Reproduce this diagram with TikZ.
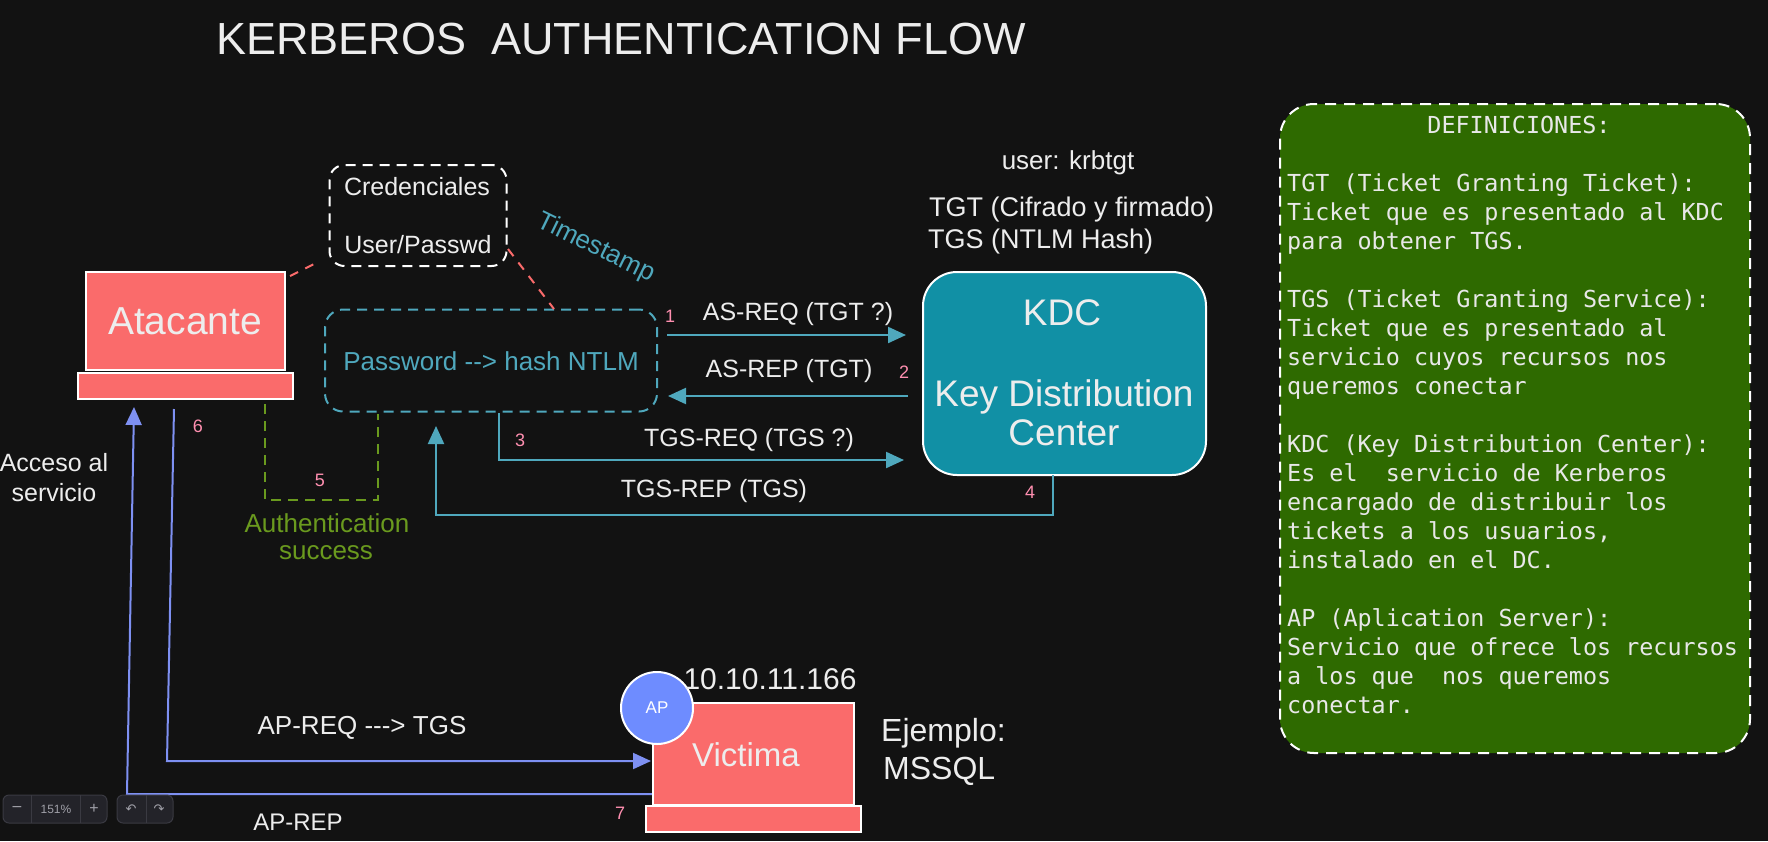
\documentclass[tikz,border=0pt]{standalone}
\usepackage{fontspec}
\setmainfont{Liberation Sans}
\newfontfamily\monofont{DejaVu Sans Mono}
\newfontfamily\symfont{DejaVu Sans}
\usetikzlibrary{arrows.meta,shapes.geometric}
\definecolor{bg}{HTML}{121212}
\definecolor{salmon}{HTML}{FA6B6B}
\definecolor{tealline}{HTML}{4FA8BD}
\definecolor{kdcfill}{HTML}{1190A5}
\definecolor{defgreen}{HTML}{2E6A00}
\definecolor{olive}{HTML}{6A9A1E}
\definecolor{bluel}{HTML}{7E90F2}
\definecolor{apblue}{HTML}{6E8CFF}
\definecolor{pinknum}{HTML}{FF8FB0}
\definecolor{txt}{HTML}{EDEDED}
\definecolor{deftxt}{HTML}{E8E8E8}
\definecolor{uibg}{HTML}{232329}
\definecolor{uiline}{HTML}{3A3A42}
\definecolor{uitxt}{HTML}{A0A0A8}
\newcommand{\myfs}[1]{\fontsize{#1}{#1}\selectfont}
\newcommand{\myfsl}[2]{\fontsize{#1}{#2}\selectfont}
\begin{document}
\begin{tikzpicture}[x=1pt,y=-1pt,
  lbl/.style={text=txt,inner sep=0pt,font=\myfs{25}},
  num/.style={text=pinknum,inner sep=0pt,font=\myfs{18}},
  host/.style={draw=white,line width=2pt,fill=salmon,inner sep=0pt},
  arr/.style={draw=tealline,line width=2.2pt,-{Triangle[length=18pt,width=16pt]}},
  barr/.style={draw=bluel,line width=2pt,-{Triangle[length=18pt,width=16pt]}},
  saldash/.style={draw=salmon,line width=2pt,dash pattern=on 9pt off 8pt},
  gdash/.style={draw=olive,line width=2pt,dash pattern=on 10pt off 7pt},
  deftext/.style={text=deftxt,inner sep=0pt,font=\monofont\myfs{23.4},anchor=base west},
  uibox/.style={fill=uibg,draw=uiline,line width=1pt,rounded corners=6pt,inner sep=0pt,minimum height=28pt},
  uitext/.style={text=uitxt,inner sep=0pt,font=\myfs{12}}
]
\fill[bg] (0,0) rectangle (1768,841);
\useasboundingbox (0,0) rectangle (1768,841);

% title
\node[lbl,font=\myfs{45}] (title) at (621,39) {KERBEROS\ \ AUTHENTICATION FLOW};

% attacker
\node[host,minimum width=199pt,minimum height=98pt] (atk) at (185.5,321) {};
\node[lbl,font=\myfs{39}] (atkt) at (185,321) {Atacante};
\node[host,minimum width=215pt,minimum height=26pt] (atkb) at (185.5,386) {};

% credentials
\node[draw=white,line width=2pt,dash pattern=on 10pt off 7pt,rounded corners=15pt,
      minimum width=177pt,minimum height=101pt,inner sep=0pt] (cred) at (418,215.5) {};
\node[lbl] (credA) at (417,187) {Credenciales};
\node[lbl] (credB) at (418,245) {User/Passwd};

% password box
\node[draw=tealline,line width=2pt,dash pattern=on 10pt off 7pt,rounded corners=18pt,
      minimum width=332pt,minimum height=102pt,inner sep=0pt] (pw) at (491,360.5) {};
\node[lbl,text=tealline,font=\myfs{26}] (pwt) at (491,361) {Password -{}-{}> hash NTLM};
\node[lbl,text=tealline,font=\myfs{26},rotate=-26] (ts) at (596,248) {Timestamp};

% salmon dashed links
\coordinate (s1a) at (290,276);
\coordinate (s1b) at (320,261);
\coordinate (s2a) at (508,249);
\coordinate (s2b) at (554,309);
\draw[saldash] (s1a) -- (s1b);
\draw[saldash] (s2a) -- (s2b);

% KDC
\node[draw=white,line width=2pt,fill=kdcfill,rounded corners=34pt,
      minimum width=283pt,minimum height=203pt,inner sep=0pt] (kdc) at (1064.5,373.5) {};
\node[lbl,font=\myfs{37}] (kdcA) at (1062,313) {KDC};
\node[lbl,font=\myfs{37}] (kdcB) at (1064,397) {Key Distribution};
\node[lbl,font=\myfs{37}] (kdcC) at (1064,433) {Center};

\node[lbl,font=\myfs{26}] (usr) at (1068,163) {user: krbtgt};
\node[lbl,font=\myfs{27},anchor=west] (tgt) at (929,210) {TGT (Cifrado y firmado)};
\node[lbl,font=\myfs{27},anchor=west] (tgs) at (928,242) {TGS (NTLM Hash)};

% teal arrows
\coordinate (r1s) at (667,335);
\coordinate (r1e) at (906,335);
\coordinate (r2s) at (908,396);
\coordinate (r2e) at (668,396);
\coordinate (r3s) at (499,413);
\coordinate (r3e) at (904,460);
\coordinate (r4s) at (1053,475);
\coordinate (r4a) at (1053,515);
\coordinate (r4b) at (436,515);
\coordinate (r4e) at (436,426);
\draw[arr] (r1s) -- (r1e);
\draw[arr] (r2s) -- (r2e);
\draw[arr] (r3s) |- (r3e);
\draw[arr] (r4s) -- (r4a) -- (r4b) -- (r4e);

\node[lbl] (l1) at (798,314) {AS-REQ (TGT ?)};
\node[lbl] (l2) at (789,371) {AS-REP (TGT)};
\node[lbl] (l3) at (749,440) {TGS-REQ (TGS ?)};
\node[lbl] (l4) at (714,491) {TGS-REP (TGS)};
\node[num] (n1) at (670,316) {1};
\node[num] (n2) at (904,372) {2};
\node[num] (n3) at (520,440) {3};
\node[num] (n4) at (1030,492) {4};

% green authentication
\coordinate (g1) at (265,404);
\coordinate (g2) at (265,500);
\coordinate (g3) at (378,500);
\coordinate (g4) at (378,414);
\draw[gdash] (g1) -- (g2) -- (g3) -- (g4);
\node[num] (n5) at (320,480) {5};
\node[lbl,text=olive,font=\myfs{26}] (auth) at (327,523) {Authentication};
\node[lbl,text=olive,font=\myfs{26}] (succ) at (326,553) {success};

% blue AP flows
\coordinate (b6a) at (174,409);
\coordinate (b6b) at (167,761);
\coordinate (b6e) at (651,761);
\draw[barr] (b6a) -- (b6b) -- (b6e);
\coordinate (b7a) at (653,794);
\coordinate (b7b) at (127,794);
\coordinate (b7e) at (134,407);
\draw[barr] (b7a) -- (b7b) -- (b7e);
\node[num] (n6) at (198,426) {6};
\node[num] (n7) at (620,813) {7};
\node[lbl,font=\myfs{26}] (apreq) at (362,728) {AP-REQ -{}-{}-{}> TGS};
\node[lbl,font=\myfs{24}] (aprep) at (298,822) {AP-REP};
\node[lbl,align=center,font=\myfsl{25}{30}] (acc) at (54,478) {Acceso al\\servicio};

% victim
\node[host,minimum width=201pt,minimum height=102pt] (vic) at (753.5,754) {};
\node[lbl,font=\myfs{33}] (vict) at (746,755) {Victima};
\node[host,minimum width=215pt,minimum height=26pt] (vicb) at (753.5,819) {};
\node[circle,draw=white,line width=2pt,fill=apblue,minimum size=72pt,inner sep=0pt,
      text=white,font=\myfs{17}] (ap) at (657,708) {AP};
\node[lbl,font=\myfs{30}] (ip) at (770,679) {10.10.11.166};
\node[lbl,font=\myfs{32},anchor=west] (ej) at (881,733) {Ejemplo:};
\node[lbl,font=\myfs{32},anchor=west] (ms) at (883,771) {MSSQL};

% definitions
\node[draw=white,line width=2pt,dash pattern=on 11pt off 8pt,fill=defgreen,rounded corners=34pt,
      minimum width=470pt,minimum height=649pt,inner sep=0pt] (defs) at (1515,428.5) {};
\node[deftext,anchor=base] (defh) at (1519,133) {DEFINICIONES:};
\foreach \ya/\txa [count=\i] in {
  191/{TGT (Ticket Granting Ticket):},
  220/{Ticket que es presentado al KDC},
  249/{para obtener TGS.},
  307/{TGS (Ticket Granting Service):},
  336/{Ticket que es presentado al},
  365/{servicio cuyos recursos nos},
  394/{queremos conectar},
  452/{KDC (Key Distribution Center):},
  481/{Es el~ servicio de Kerberos},
  510/{encargado de distribuir los},
  539/{tickets a los usuarios,},
  568/{instalado en el DC.},
  626/{AP (Aplication Server):},
  655/{Servicio que ofrece los recursos},
  684/{a los que~ nos queremos},
  713/{conectar.}}
  \node[deftext,name=def\i] at (1287,\ya) {\txa};

% zoom controls
\node[uibox,minimum width=104pt] (z1) at (55,809) {};
\node[uibox,minimum width=56pt] (z2) at (145,809) {};
\draw[uiline,line width=1pt] (31,795) -- (31,823) (80,795) -- (80,823) (146,795) -- (146,823);
\node[uitext,font=\symfont\myfs{14}] (zm) at (17,809) {−};
\node[uitext] (zp) at (56,809) {151\%};
\node[uitext,font=\myfs{16}] (zpl) at (94,809) {+};
\node[uitext,font=\symfont\myfs{13}] (zu) at (131,809) {↶};
\node[uitext,font=\symfont\myfs{13}] (zr) at (159,809) {↷};
\end{tikzpicture}
\end{document}
